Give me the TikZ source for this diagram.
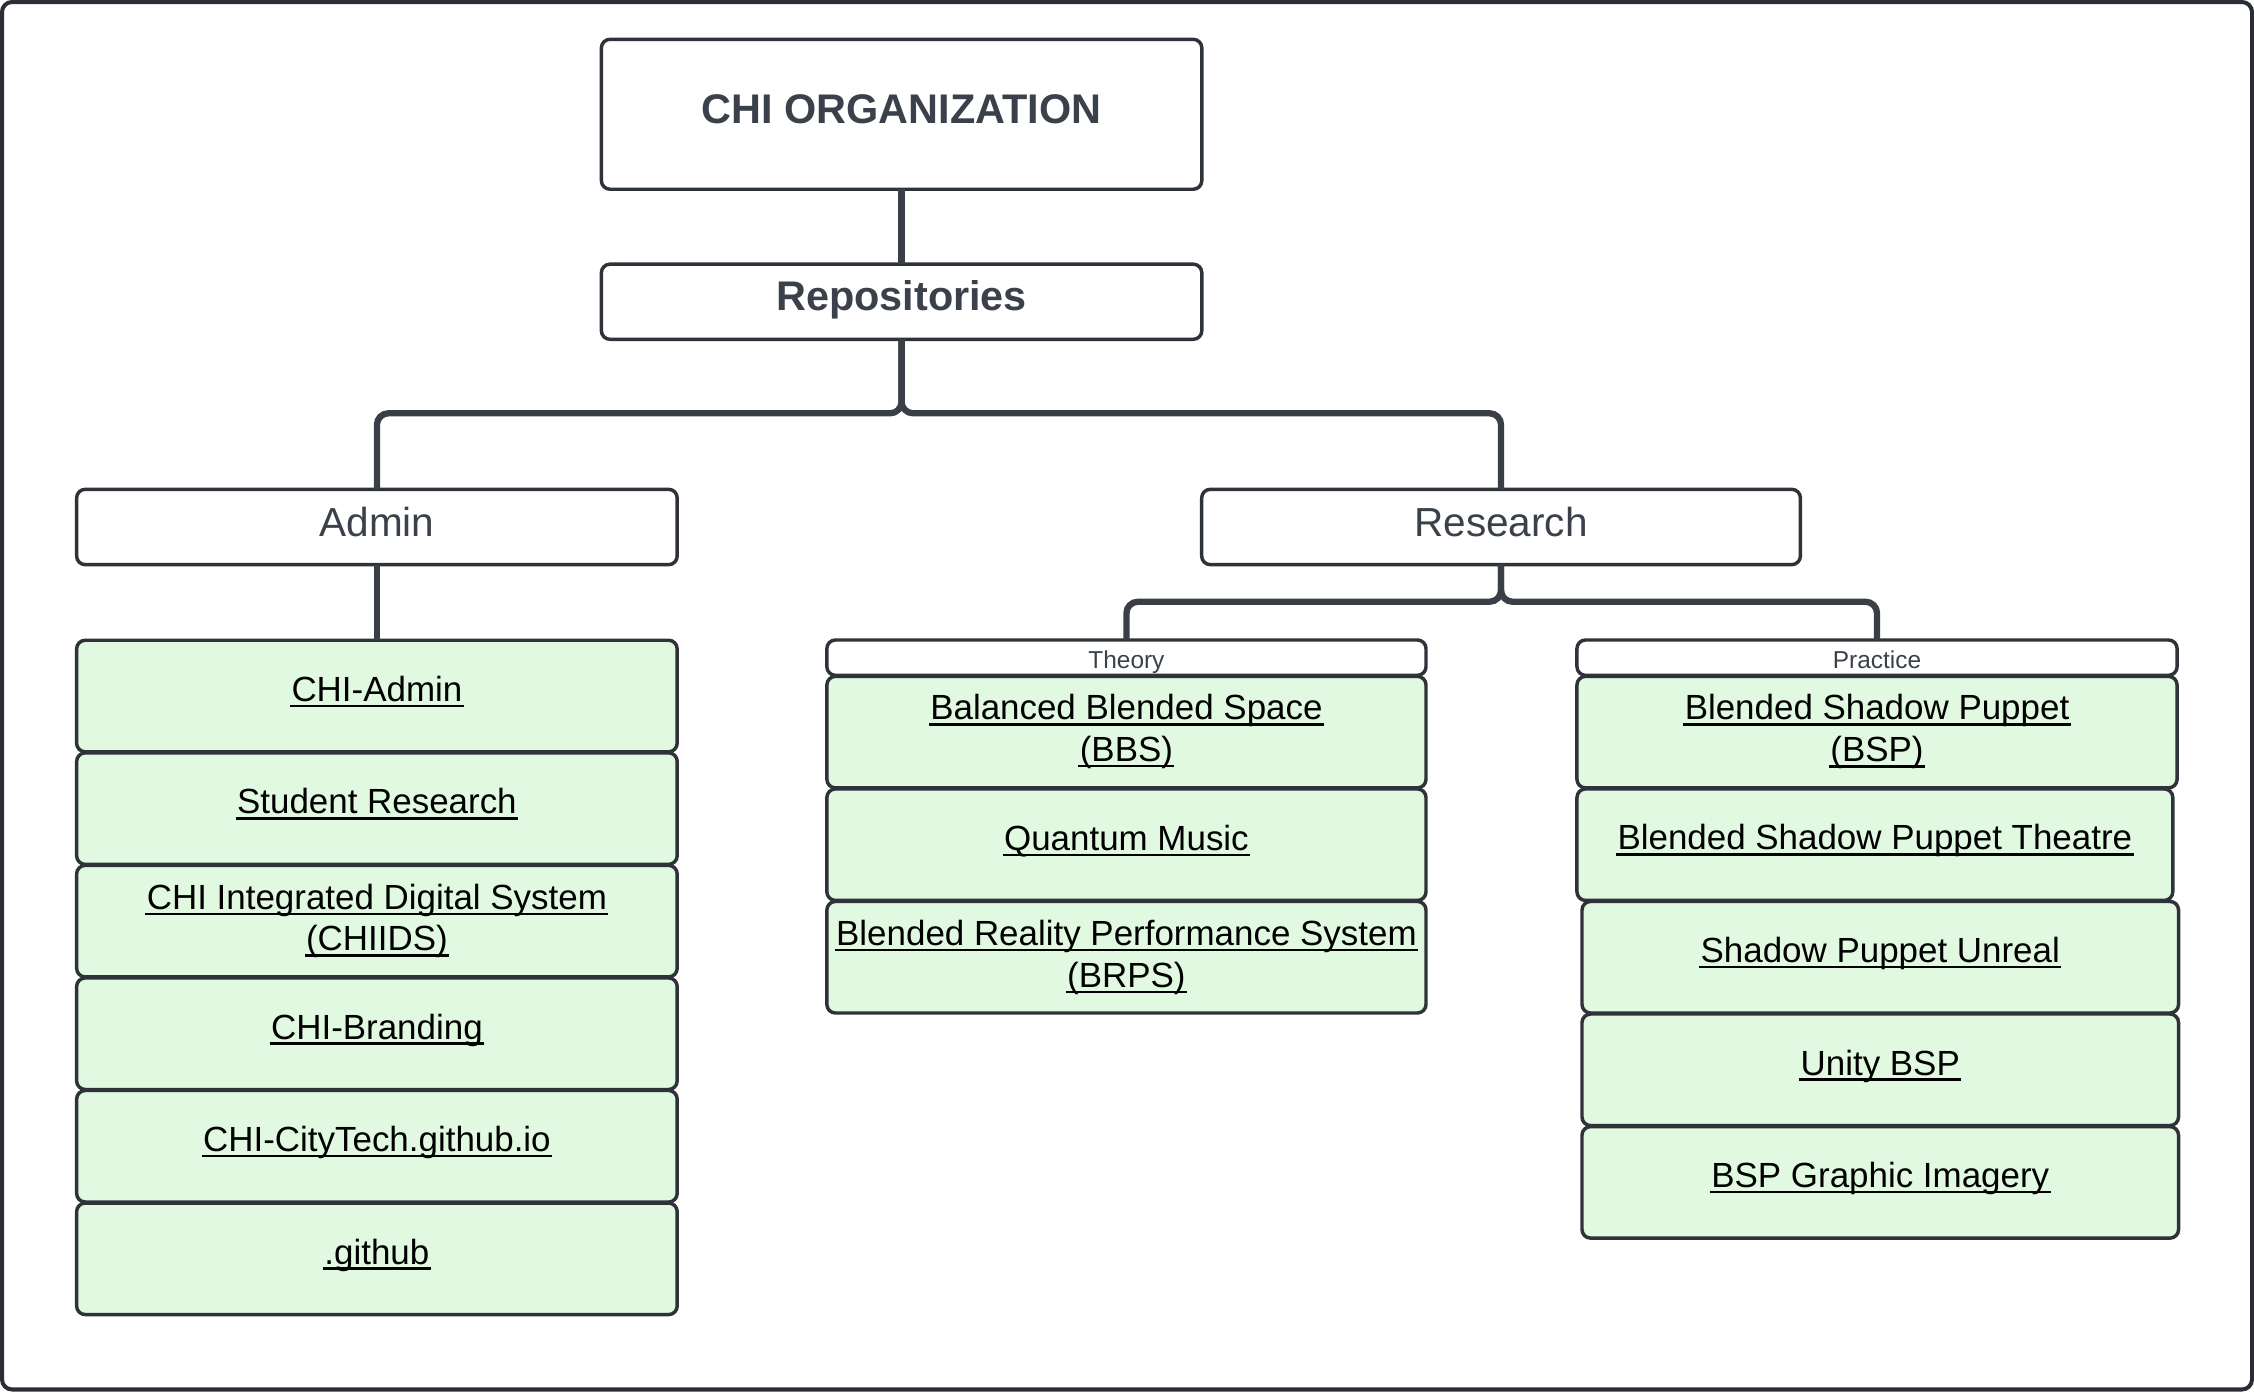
\documentclass[tikz,border=0pt]{standalone}
\usepackage{fontspec}
\setmainfont{Liberation Sans}
\usetikzlibrary{calc}
\definecolor{framec}{HTML}{2A2E34}
\definecolor{boxc}{HTML}{2E3339}
\definecolor{connc}{HTML}{3A3F47}
\definecolor{headc}{HTML}{3A414A}
\definecolor{itemfill}{HTML}{E1F8E1}
\newcommand{\myul}[1]{\setbox0=\hbox{#1}\rlap{\kern-1pt\vrule width \dimexpr\wd0+2pt\relax height -2.2pt depth 4pt}\box0}
\begin{document}
\begin{tikzpicture}[x=1pt,y=-1pt,
  framebox/.style={draw=framec, line width=2.8pt, rounded corners=7pt},
  hbox/.style={draw=boxc, line width=2.4pt, rounded corners=6pt, fill=white, inner sep=0pt, outer sep=0pt},
  gbox/.style={hbox, fill=itemfill, minimum height=77.6pt},
  conn/.style={draw=connc, line width=4.4pt, rounded corners=8pt},
  itemtxt/.style={font=\fontsize{24.3}{29}\selectfont, text=black, anchor=base, inner sep=0pt},
  headtxt/.style={font=\fontsize{28.2}{34}\selectfont, text=headc, anchor=base, inner sep=0pt},
  titletxt/.style={font=\fontsize{28.8}{34}\selectfont\bfseries, text=headc, anchor=base, inner sep=0pt},
  subtxt/.style={font=\fontsize{17}{20}\selectfont, text=headc, anchor=base, inner sep=0pt}]
\useasboundingbox (0,0) rectangle (1568,968);
\draw[framebox] (1.4,1.4) rectangle (1566.6,966.6);

% top level
\node[hbox, minimum width=417.7pt, minimum height=104.3pt] (org) at (627.2,79.5) {};
\node[titletxt] (orgt) at ($(org.center)+(0,6.2)$) {CHI ORGANIZATION};
\node[hbox, minimum width=417.7pt, minimum height=52.3pt] (rep) at (627.2,209.9) {};
\node[titletxt] (rept) at ($(rep.center)+(0,6)$) {Repositories};

\node[hbox, minimum width=417.8pt, minimum height=52.4pt] (adm) at (262.2,366.6) {};
\node[headtxt] (admt) at ($(adm.center)+(0,6.3)$) {Admin};
\node[hbox, minimum width=416.5pt, minimum height=52.4pt] (res) at (1044.2,366.6) {};
\node[headtxt] (rest) at ($(res.center)+(0,6.3)$) {Research};

% Admin items
\node[gbox, minimum width=417.8pt] (a1) at (262.2,484.2) {};
\node[gbox, minimum width=417.8pt] (a2) at (262.2,562.5) {};
\node[gbox, minimum width=417.8pt] (a3) at (262.2,640.8) {};
\node[gbox, minimum width=417.8pt] (a4) at (262.2,719.1) {};
\node[gbox, minimum width=417.8pt] (a5) at (262.2,797.4) {};
\node[gbox, minimum width=417.8pt] (a6) at (262.2,875.7) {};
\node[itemtxt] (a1t) at ($(a1.north)+(0,42.5)$) {\myul{CHI-Admin}};
\node[itemtxt] (a2t) at ($(a2.north)+(0,42.5)$) {\myul{Student Research}};
\node[itemtxt] (a3t) at ($(a3.north)+(0,30.8)$) {\myul{CHI Integrated Digital System}};
\node[itemtxt] (a3u) at ($(a3.north)+(0,59.5)$) {\myul{(CHIIDS)}};
\node[itemtxt] (a4t) at ($(a4.north)+(0,42.5)$) {\myul{CHI-Branding}};
\node[itemtxt] (a5t) at ($(a5.north)+(0,42.5)$) {\myul{CHI-CityTech.github.io}};
\node[itemtxt] (a6t) at ($(a6.north)+(0,42.5)$) {\myul{.github}};

% Theory
\node[hbox, minimum width=416.8pt, minimum height=24.6pt] (th) at (783.6,457.5) {};
\node[subtxt] (tht) at (783.6,465.2) {Theory};
\node[gbox, minimum width=416.8pt] (t1) at (783.6,509.3) {};
\node[gbox, minimum width=416.8pt] (t2) at (783.6,587.6) {};
\node[gbox, minimum width=416.8pt] (t3) at (783.6,665.9) {};
\node[itemtxt] (t1t) at ($(t1.north)+(0,30.2)$) {\myul{Balanced Blended Space}};
\node[itemtxt] (t1u) at ($(t1.north)+(0,59.2)$) {\myul{(BBS)}};
\node[itemtxt] (t2t) at ($(t2.north)+(0,42.8)$) {\myul{Quantum Music}};
\node[itemtxt] (t3t) at ($(t3.north)+(0,30.8)$) {\myul{Blended Reality Performance System}};
\node[itemtxt] (t3u) at ($(t3.north)+(0,59.8)$) {\myul{(BRPS)}};

% Practice
\node[hbox, minimum width=417.5pt, minimum height=24.6pt] (pr) at (1305.75,457.5) {};
\node[subtxt] (prt) at (1305.75,465.2) {Practice};
\node[gbox, minimum width=417.5pt] (p1) at (1305.75,509.3) {};
\node[gbox, minimum width=414.5pt] (p2) at (1304.25,587.6) {};
\node[gbox, minimum width=415pt] (p3) at (1308,665.9) {};
\node[gbox, minimum width=415pt] (p4) at (1308,744.2) {};
\node[gbox, minimum width=415pt] (p5) at (1308,822.5) {};
\node[itemtxt] (p1t) at ($(p1.north)+(0,30.2)$) {\myul{Blended Shadow Puppet}};
\node[itemtxt] (p1u) at ($(p1.north)+(0,59.5)$) {\myul{(BSP)}};
\node[itemtxt] (p2t) at ($(p2.north)+(0,42.5)$) {\myul{Blended Shadow Puppet Theatre}};
\node[itemtxt] (p3t) at ($(p3.north)+(0,42.5)$) {\myul{Shadow Puppet Unreal}};
\node[itemtxt] (p4t) at ($(p4.north)+(0,42.5)$) {\myul{Unity BSP}};
\node[itemtxt] (p5t) at ($(p5.north)+(0,42.5)$) {\myul{BSP Graphic Imagery}};

% connectors
\coordinate (busA) at (0,287.5);
\coordinate (busB) at (0,418.6);
\draw[conn] (org.south) -- (rep.north);
\draw[conn] (rep.south) |- (adm.north |- busA) -- (adm.north);
\draw[conn] (rep.south) |- (res.north |- busA) -- (res.north);
\draw[conn] (adm.south) -- (a1.north);
\draw[conn] (res.south) |- (th.north |- busB) -- (th.north);
\draw[conn] (res.south) |- (pr.north |- busB) -- (pr.north);
\end{tikzpicture}
\end{document}
